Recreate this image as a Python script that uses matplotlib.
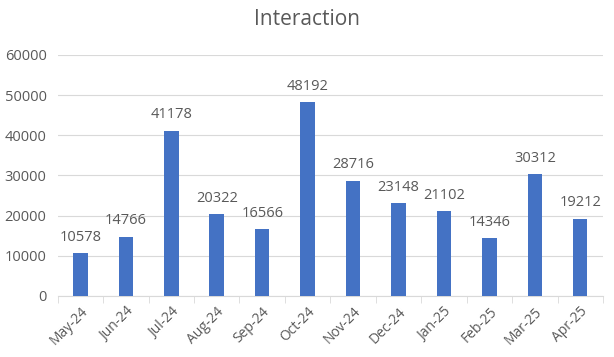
import matplotlib.pyplot as plt
import numpy as np

plt.rcParams['font.family'] = ['Open Sans', 'DejaVu Sans']

months = ['May-24', 'Jun-24', 'Jul-24', 'Aug-24', 'Sep-24', 'Oct-24',
          'Nov-24', 'Dec-24', 'Jan-25', 'Feb-25', 'Mar-25', 'Apr-25']
interaction = [10578, 14766, 41178, 20322, 16566, 48192,
               28716, 23148, 21102, 14346, 30312, 19212]

TEXT = '#595959'
GRID = '#D9D9D9'

fig = plt.figure(figsize=(6.14, 3.57), dpi=100)
ax = fig.add_axes([0.094, 0.171, 0.888, 0.675])

x = np.arange(len(months))
bars = ax.bar(x, interaction, width=0.32, color='#4472C4', zorder=3)
ax.bar_label(bars, padding=6, fontsize=10.5, color=TEXT)

ax.set_xlim(-0.5, len(months) - 0.5)
ax.set_ylim(0, 60000)
ax.set_yticks(range(0, 60001, 10000))
ax.grid(axis='y', color=GRID, linewidth=0.8, zorder=0)

ax.set_xticks(x)
ax.set_xticklabels(months, rotation=45, ha='right', rotation_mode='anchor')
ax.set_xticks(np.arange(-0.5, len(months)), minor=True)
ax.tick_params(axis='x', which='major', length=0, colors=TEXT, labelsize=10, pad=6)
ax.tick_params(axis='x', which='minor', length=5, color=GRID)
ax.tick_params(axis='y', length=0, colors=TEXT, labelsize=10.5, pad=8)

for s in ['top', 'right', 'left']:
    ax.spines[s].set_visible(False)
ax.spines['bottom'].set_color(GRID)

fig.text(0.5, 0.944, 'Interaction', ha='center', va='center', fontsize=15, color=TEXT)

fig.savefig('out.png', dpi=100)
